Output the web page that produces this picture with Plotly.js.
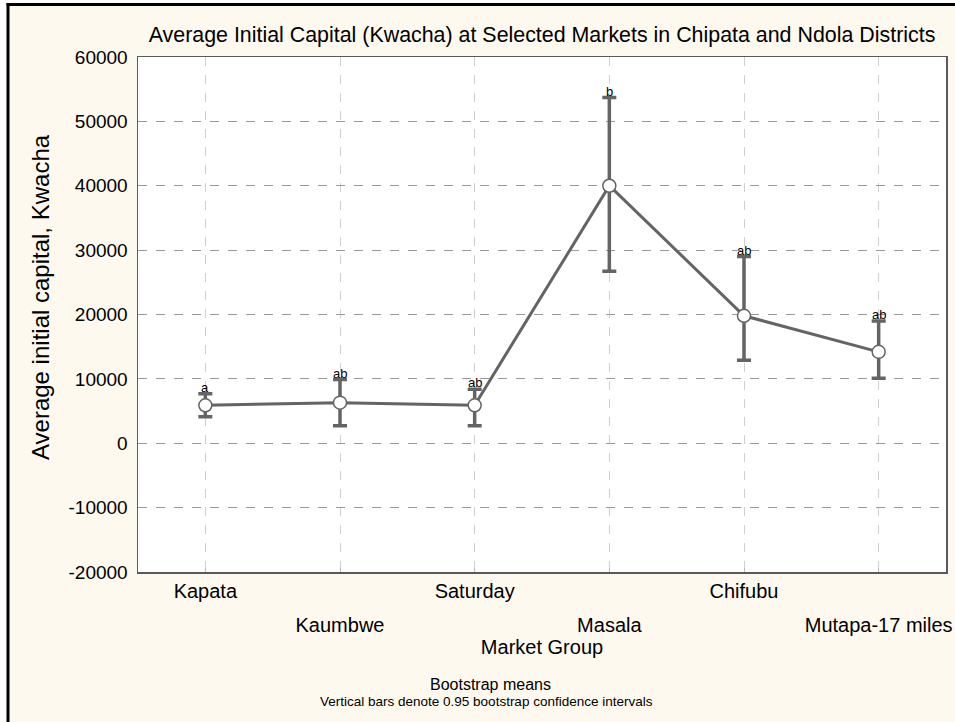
<!DOCTYPE html>
<html>
<head>
<meta charset="utf-8">
<script src="https://cdn.plot.ly/plotly-3.0.1.min.js"></script>
<style>html,body{margin:0;padding:0;background:#ffffff;}#chart{width:955px;height:722px;}</style>
</head>
<body>
<div id="chart"></div>
<script>
// ---- data ----
const markets = ["Kapata", "Kaumbwe", "Saturday", "Masala", "Chifubu", "Mutapa-17 miles"];
const meanCapital = [5900, 6300, 5900, 40000, 19800, 14200];
const upperCI = [7700, 9900, 8400, 53700, 29000, 19000];
const lowerCI = [4100, 2700, 2700, 26700, 12900, 10100];
const groupLetters = ["a", "ab", "ab", "b", "ab", "ab"];
const yTickVals = [-20000, -10000, 0, 10000, 20000, 30000, 40000, 50000, 60000];
const yTickLabels = ["-20000", "-10000", "0", "10000", "20000", "30000", "40000", "50000", "60000"];

const idx = markets.map((m, i) => i);
const plusErr = upperCI.map((u, i) => u - meanCapital[i]);
const minusErr = meanCapital.map((m, i) => m - lowerCI[i]);

const FONT = "Liberation Sans, Arial, sans-serif";
const GRAY = "#646464";
const CREAM = "#fef9ee";

const trace = {
  type: "scatter",
  mode: "lines+markers",
  x: idx,
  y: meanCapital,
  line: {color: GRAY, width: 3},
  marker: {size: 13, color: "#ffffff", line: {color: GRAY, width: 1.5}},
  error_y: {type: "data", symmetric: false, array: plusErr, arrayminus: minusErr,
            color: GRAY, thickness: 3.5, width: 7},
  hoverinfo: "x+y",
  showlegend: false
};

// staggered category labels: even on the first row (xaxis), odd on the second row (xaxis2)
const evenIdx = idx.filter(i => i % 2 === 0);
const oddIdx = idx.filter(i => i % 2 === 1);

// carrier trace (draws nothing) so that the second-row label axis is rendered
const rowTwoCarrier = {
  type: "scatter", mode: "none", x: oddIdx, y: oddIdx.map(i => meanCapital[i]),
  xaxis: "x2", yaxis: "y", hoverinfo: "skip", showlegend: false
};

const letterAnn = groupLetters.map((t, i) => ({
  text: t, x: i, y: upperCI[i], xref: "x", yref: "y",
  yanchor: "bottom", xanchor: "center", showarrow: false, yshift: -3,
  font: {family: FONT, size: 13, color: "#000"}
}));

const PL = 138, PR = 946, PT = 57, PB = 572;
const px2x = p => (p - PL) / (PR - PL);
const py2y = p => (PB - p) / (PB - PT);

const layout = {
  width: 955, height: 722, autosize: false,
  margin: {l: PL, r: 955 - PR, t: PT, b: 722 - PB, pad: 0},
  paper_bgcolor: CREAM,
  plot_bgcolor: "#ffffff",
  font: {family: FONT, color: "#000"},
  title: {text: "Average Initial Capital (Kwacha) at Selected Markets in Chipata and Ndola Districts",
          font: {family: FONT, size: 21.4, color: "#000"},
          xref: "paper", x: 0.5, xanchor: "center", yref: "container", y: 1 - 35 / 722, yanchor: "middle"},
  xaxis: {
    range: [-0.5, 5.5], tickmode: "array", tickvals: idx,
    ticktext: idx.map(i => (i % 2 === 0 ? markets[i] : "")),
    tickfont: {family: FONT, size: 20, color: "#000"},
    showgrid: true, gridcolor: "#cfcfcf", griddash: "dash", gridwidth: 1,
    showline: true, mirror: true, linecolor: "#5a5a5a", linewidth: 1.5,
    ticks: "inside", ticklen: 4, tickcolor: "#bbbbbb", zeroline: false,
    automargin: false,
    title: {text: ""}
  },
  xaxis2: {
    overlaying: "x", anchor: "y", side: "bottom",
    range: [-0.5, 5.5], tickmode: "array", tickvals: oddIdx,
    ticktext: oddIdx.map(i => markets[i]),
    tickfont: {family: FONT, size: 20, color: "#000"},
    ticklabelstandoff: 39, showgrid: false, showline: false, ticks: "", zeroline: false,
    automargin: false,
    title: {text: "Market Group", font: {family: FONT, size: 20, color: "#000"}, standoff: 2}
  },
  yaxis: {
    range: [-20000, 60000], tickmode: "array", tickvals: yTickVals, ticktext: yTickLabels,
    tickfont: {family: FONT, size: 19, color: "#000"}, ticklabelstandoff: 5,
    showgrid: true, gridcolor: "#999999", griddash: "dash", gridwidth: 1,
    showline: true, mirror: true, linecolor: "#5a5a5a", linewidth: 1.5,
    ticks: "", zeroline: false, automargin: false,
    title: {text: ""}
  },
  shapes: [
    {type: "rect", xref: "paper", yref: "paper", x0: px2x(-5), x1: px2x(7), y0: py2y(740), y1: py2y(-5),
     fillcolor: "#ffffff", line: {width: 0}},
    {type: "rect", xref: "paper", yref: "paper", x0: px2x(-5), x1: px2x(970), y0: py2y(3.5), y1: py2y(-5),
     fillcolor: "#ffffff", line: {width: 0}},
    {type: "line", xref: "paper", yref: "paper", x0: px2x(8), x1: px2x(8), y0: py2y(740), y1: py2y(3),
     line: {color: "#000", width: 3}},
    {type: "line", xref: "paper", yref: "paper", x0: px2x(6.5), x1: px2x(970), y0: py2y(4.5), y1: py2y(4.5),
     line: {color: "#000", width: 3}}
  ],
  annotations: letterAnn.concat([
    {text: "Average initial capital, Kwacha", xref: "paper", yref: "paper", x: px2x(40), y: py2y(297),
     xanchor: "center", yanchor: "middle", textangle: -90, showarrow: false,
     font: {family: FONT, size: 24, color: "#000"}},
    {text: "Bootstrap means", xref: "paper", yref: "paper", x: px2x(490), y: py2y(684),
     xanchor: "center", yanchor: "middle", showarrow: false, font: {family: FONT, size: 16, color: "#000"}},
    {text: "Vertical bars denote 0.95 bootstrap confidence intervals", xref: "paper", yref: "paper",
     x: px2x(486), y: py2y(702), xanchor: "center", yanchor: "middle", showarrow: false,
     font: {family: FONT, size: 13.5, color: "#000"}}
  ])
};

Plotly.newPlot("chart", [trace, rowTwoCarrier], layout, {displayModeBar: false, staticPlot: true});
</script>
</body>
</html>
